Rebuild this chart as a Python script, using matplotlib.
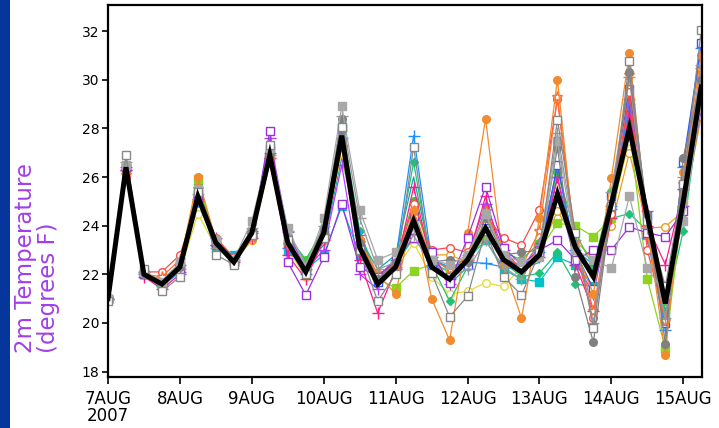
import matplotlib
matplotlib.use("Agg")
import matplotlib.pyplot as plt
import matplotlib.dates as mdates
import pandas as pd
import numpy as np
from matplotlib.patches import Rectangle

# ---- data ----
times = pd.date_range("2007-08-07 00:00", periods=34, freq="6h")
tick_days = pd.date_range("2007-08-07", "2007-08-15", freq="D")
tick_labels = ["7AUG\n2007", "8AUG", "9AUG", "10AUG", "11AUG", "12AUG", "13AUG", "14AUG", "15AUG"]
y_ticks = [18, 20, 22, 24, 26, 28, 30, 32]

ens_mean = [21.0, 26.4, 22.0, 21.6, 22.3, 25.2, 23.3, 22.5, 23.7, 26.9, 23.3, 22.1, 23.7, 27.7, 23.1, 21.6, 22.3,
            24.2, 22.3, 21.8, 22.6, 23.9, 22.6, 22.1, 22.8, 25.3, 23.1, 21.9, 24.9, 28.0, 24.4, 20.8, 25.0, 29.7]

m_orange = [21.0, 26.2, 22.1, 21.7, 22.4, 26.0, 23.4, 22.5, 23.6, 26.8, 23.3, 22.2, 23.8, 27.4, 23.4, 22.0, 21.2,
            24.65, 21.0, 19.3, 23.7, 28.4, 22.4, 20.2, 24.3, 30.0, 23.0, 21.2, 25.95, 31.1, 24.0, 18.7, 26.2, 31.0]
m_red = [21.0, 26.0, 22.1, 22.1, 22.8, 25.0, 23.5, 22.7, 23.6, 26.6, 23.2, 22.0, 23.6, 27.5, 23.4, 22.0, 22.4,
         24.9, 23.0, 23.1, 22.9, 24.4, 23.5, 23.2, 24.65, 29.2, 23.0, 20.2, 24.5, 29.5, 23.0, 20.1, 25.3, 30.2]
m_blueplus = [21.0, 26.3, 22.0, 21.5, 22.1, 25.0, 23.2, 22.7, 23.7, 27.0, 23.1, 22.0, 23.6, 27.6, 23.6, 21.8, 22.6,
              27.7, 22.6, 22.3, 22.5, 22.45, 22.3, 22.2, 22.9, 26.0, 23.0, 22.4, 24.8, 29.0, 23.5, 19.7, 26.4, 31.3]
m_pinkplus = [21.0, 26.3, 21.9, 21.4, 22.0, 25.1, 23.2, 22.5, 23.5, 26.8, 22.8, 21.8, 23.4, 27.3, 22.6, 20.4, 22.2,
              25.6, 22.4, 21.8, 22.6, 25.2, 22.5, 22.3, 22.7, 26.0, 22.4, 20.5, 24.3, 28.7, 24.0, 22.4, 25.5, 30.5]
m_purple = [21.0, 26.4, 22.0, 21.6, 22.2, 25.1, 23.2, 22.5, 23.6, 27.9, 22.5, 21.15, 22.7, 24.9, 22.3, 21.9, 22.6,
            23.5, 22.9, 21.65, 23.5, 25.6, 23.1, 22.4, 23.0, 23.4, 22.6, 23.0, 23.0, 23.95, 23.7, 23.55, 24.6, 28.8]
m_whitesq = [20.9, 26.9, 22.2, 21.3, 21.9, 25.4, 22.8, 22.4, 23.6, 27.3, 23.4, 22.0, 23.5, 28.05, 23.0, 20.9, 22.0,
             27.25, 22.05, 20.25, 21.1, 23.8, 21.9, 21.15, 22.9, 28.35, 23.7, 19.8, 24.8, 30.75, 24.2, 21.5, 25.7, 32.05]
m_graysq = [21.0, 26.5, 22.1, 21.7, 22.5, 25.5, 23.4, 22.6, 24.2, 27.2, 23.9, 22.3, 24.3, 28.9, 24.65, 22.6, 22.9,
            24.0, 22.6, 22.4, 22.8, 24.5, 22.8, 22.5, 22.7, 27.5, 23.0, 22.6, 22.25, 25.2, 22.25, 21.2, 24.2, 29.0]
m_graycirc = [21.0, 26.5, 22.0, 21.6, 22.3, 25.3, 23.3, 22.5, 23.8, 27.0, 23.4, 22.2, 23.8, 28.4, 23.3, 21.8, 22.5,
              24.0, 22.5, 22.6, 22.5, 24.3, 22.8, 22.9, 23.0, 27.2, 21.9, 19.2, 24.8, 30.3, 24.5, 19.15, 26.8, 30.0]
m_lime = [21.0, 26.4, 22.0, 21.6, 22.4, 25.9, 23.4, 22.5, 23.7, 26.8, 23.2, 22.3, 23.6, 27.5, 23.2, 21.8, 21.45,
          22.15, 22.4, 22.1, 22.5, 23.6, 22.7, 22.2, 23.0, 24.1, 24.0, 23.55, 24.3, 28.0, 21.8, 18.95, 25.0, 30.3]
m_seagreen = [21.0, 26.4, 22.0, 21.5, 22.2, 25.2, 23.3, 22.7, 23.7, 27.0, 23.6, 22.6, 23.8, 28.2, 23.8, 21.8, 22.6,
              26.6, 22.4, 20.9, 22.3, 24.8, 22.5, 21.9, 22.05, 22.9, 21.6, 21.5, 24.3, 24.5, 23.8, 20.5, 23.8, 29.2]
m_cyan = [21.0, 26.3, 22.0, 21.6, 22.4, 25.0, 23.1, 22.8, 23.6, 26.7, 23.0, 22.2, 22.8, 24.8, 22.8, 21.9, 22.4,
          23.5, 22.5, 22.1, 22.6, 23.4, 22.2, 21.8, 21.7, 22.7, 22.4, 21.5, 24.6, 29.0, 23.6, 20.3, 25.6, 30.0]
m_yellow = [21.0, 26.2, 22.1, 21.5, 22.1, 24.5, 23.1, 22.6, 23.4, 26.6, 23.0, 21.9, 23.5, 27.0, 23.0, 21.7, 22.2,
            23.3, 21.9, 21.2, 21.3, 21.65, 21.5, 22.3, 23.0, 25.5, 22.8, 22.0, 24.5, 27.5, 24.3, 20.6, 25.2, 29.3]
m_gold = [21.0, 26.4, 22.0, 21.6, 22.3, 25.0, 23.3, 22.5, 23.4, 26.9, 23.0, 22.2, 23.4, 27.4, 23.2, 21.8, 22.4,
          24.0, 22.8, 22.8, 22.5, 24.1, 22.7, 22.2, 22.9, 24.6, 23.4, 22.6, 24.0, 27.0, 23.9, 23.95, 24.6, 28.5]
m_bluesq = [21.0, 26.4, 22.0, 21.6, 22.3, 25.3, 23.3, 22.5, 23.7, 27.1, 23.3, 22.1, 23.8, 28.0, 23.1, 21.7, 22.3,
            24.4, 22.3, 21.9, 22.4, 23.9, 22.7, 22.3, 22.9, 26.5, 22.9, 21.4, 25.2, 29.6, 24.4, 20.0, 26.6, 31.5]
m_green = [21.0, 26.5, 22.0, 21.8, 22.4, 25.7, 23.4, 22.7, 23.8, 27.2, 23.4, 22.6, 23.9, 27.9, 23.3, 21.9, 22.6,
           25.0, 22.7, 22.2, 22.7, 24.6, 22.9, 22.6, 23.3, 26.2, 23.7, 22.3, 25.4, 28.6, 24.4, 20.9, 25.6, 30.1]
m_teal = [21.0, 26.3, 22.0, 21.7, 22.3, 25.1, 23.2, 22.8, 23.5, 26.8, 23.0, 22.4, 23.2, 26.8, 23.5, 22.2, 22.8,
          26.0, 22.6, 21.6, 22.3, 24.0, 22.5, 22.2, 22.5, 26.5, 22.8, 22.0, 25.0, 28.5, 24.0, 21.0, 24.6, 29.5]
m_grayplus = [21.0, 26.6, 22.1, 21.5, 22.2, 25.3, 23.1, 22.6, 23.9, 26.9, 23.8, 22.4, 24.0, 28.5, 24.3, 22.2, 22.5,
              23.6, 22.3, 21.9, 22.2, 23.4, 22.3, 21.8, 23.2, 27.8, 23.4, 20.0, 25.4, 30.1, 23.9, 20.2, 26.0, 30.6]
m_violet = [21.0, 26.4, 22.1, 21.6, 22.4, 25.0, 23.5, 22.6, 23.8, 27.6, 23.75, 22.2, 23.0, 26.5, 22.0, 21.4, 22.3,
            23.9, 22.7, 21.6, 22.8, 24.9, 23.0, 22.2, 23.3, 25.4, 22.5, 21.2, 24.7, 29.2, 24.6, 21.2, 24.8, 30.0]
m_star = [21.0, 26.1, 22.0, 21.9, 22.6, 25.5, 23.4, 22.6, 23.5, 26.7, 23.2, 22.1, 23.6, 27.2, 23.3, 21.9, 22.4,
          24.6, 22.6, 22.2, 22.7, 24.6, 22.8, 22.3, 23.8, 29.3, 23.3, 20.5, 24.8, 30.2, 23.6, 20.1, 25.7, 30.4]

# ---- styles (colour, marker, filled) ----
members = [
    (m_teal, "#12A5A5", None, True),
    (m_yellow, "#E2DC3A", "o", False),
    (m_gold, "#E8A020", "o", False),
    (m_cyan, "#00C2C8", "s", True),
    (m_seagreen, "#20C27A", "D", True),
    (m_green, "#33CC33", "o", True),
    (m_lime, "#8CD420", "s", True),
    (m_violet, "#B040FF", "+", True),
    (m_blueplus, "#1E90FF", "+", True),
    (m_pinkplus, "#FF1A8C", "+", True),
    (m_bluesq, "#3355FF", "s", False),
    (m_red, "#FF4A4A", "o", False),
    (m_star, "#FF7030", "*", False),
    (m_orange, "#F28A2E", "o", True),
    (m_purple, "#9A30E0", "s", False),
    (m_grayplus, "#9A9A9A", "+", True),
    (m_graycirc, "#808080", "o", True),
    (m_graysq, "#A8A8A8", "s", True),
    (m_whitesq, "#888888", "s", False),
]

fig = plt.figure(figsize=(7.19, 4.28), dpi=100)
fig.patch.set_facecolor("white")
fig.patches.append(Rectangle((0, 0), 10 / 719, 1, transform=fig.transFigure,
                             facecolor="#06369C", edgecolor="none", zorder=0))

ax = fig.add_axes([108 / 719, 1 - 377 / 428, (702 - 108) / 719, (377 - 5) / 428])

x = mdates.date2num(times.to_pydatetime())
for vals, col, mk, filled in members:
    kw = dict(color=col, lw=0.9)
    if mk is not None:
        size = {"o": 5.5, "s": 6, "D": 4.5, "+": 8, "*": 8}[mk]
        kw.update(marker=mk, ms=size, mew=1.0)
        if mk in "+":
            kw.update(mec=col)
        elif filled:
            kw.update(mfc=col, mec=col)
        else:
            kw.update(mfc="white", mec=col)
    ax.plot(x, vals, **kw)

ax.plot(x, ens_mean, color="black", lw=3.6, solid_joinstyle="miter", zorder=5)

x0 = mdates.date2num(pd.Timestamp("2007-08-07").to_pydatetime())
ax.set_xlim(x0, x0 + 8.26)
ax.set_ylim(17.78, 33.07)
ax.set_xticks(mdates.date2num(tick_days.to_pydatetime()))
ax.set_xticklabels(tick_labels, fontsize=12, linespacing=0.95)
ax.set_yticks(y_ticks)
ax.set_yticklabels([str(v) for v in y_ticks], fontsize=10)
ax.tick_params(axis="x", direction="out", length=5, width=1.2, pad=4)
ax.tick_params(axis="y", direction="out", length=4, width=1.2, pad=2)
for s in ax.spines.values():
    s.set_linewidth(1.6)
    s.set_color("black")

fig.text(37 / 719, 1 - 353 / 428, "2m Temperature\n(degrees F)", rotation=90,
         ha="center", va="bottom", multialignment="left", linespacing=0.95,
         fontsize=16.5, color="#A040E8")

fig.savefig("out.png", dpi=100)
